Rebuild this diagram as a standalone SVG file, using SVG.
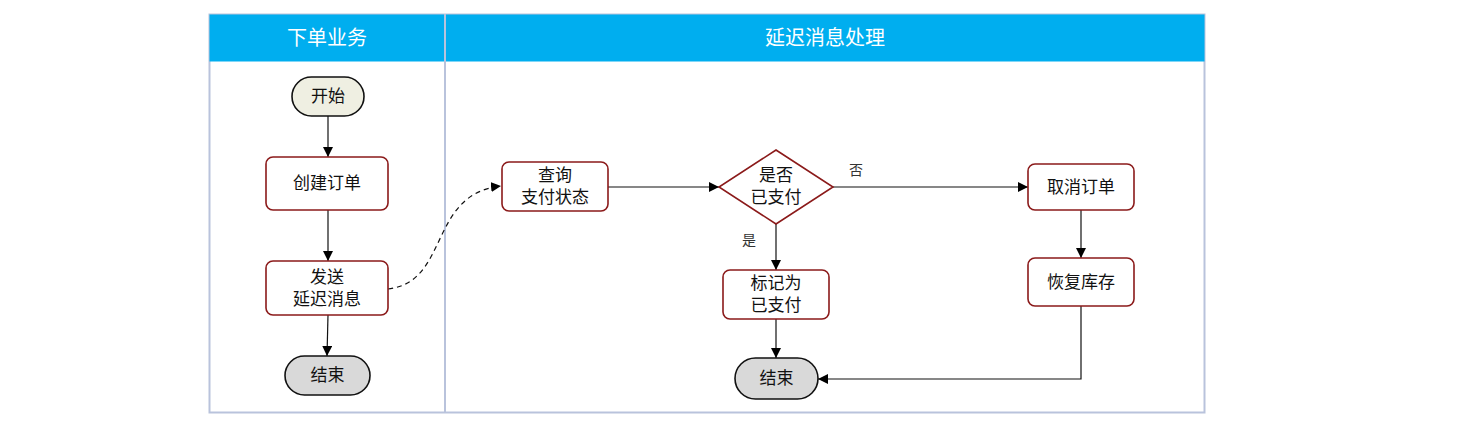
<svg xmlns="http://www.w3.org/2000/svg" width="1471" height="437" viewBox="0 0 1471 437">
<defs>
<marker id="arr" viewBox="0 0 10 10" refX="10" refY="5" markerWidth="10" markerHeight="10" markerUnits="userSpaceOnUse" orient="auto">
<path d="M0,0 L10,5 L0,10 z" fill="#000"/>
</marker>
<style>
text{font-family:"Liberation Sans","Noto Sans CJK SC",sans-serif;fill:#111;text-anchor:middle;dominant-baseline:central}
.hdr{fill:#fff;font-size:20px}
.lbl{font-size:17px}
.sm{font-size:14px;fill:#333}
.box{fill:#fff;stroke:#8b1a1a;stroke-width:1.6}
.term{stroke:#111;stroke-width:1.6}
.conn path{fill:none;stroke:#111;stroke-width:1.2}
</style>
</defs>
<rect width="1471" height="437" fill="#fff"/>
<g id="lanes">
<rect x="209.5" y="14.5" width="995" height="398" fill="#fff" stroke="#b9c3dc" stroke-width="2"/>
<rect x="209.5" y="14.5" width="995" height="47" fill="#00aeef"/>
<line x1="445" y1="14" x2="445" y2="413" stroke="#b9c3dc" stroke-width="2"/>
<text class="hdr" x="327" y="38">下单业务</text>
<text class="hdr" x="825" y="38">延迟消息处理</text>
</g>
<g class="conn" id="connectors">
<path d="M328,116 V157" marker-end="url(#arr)"/>
<path d="M328,210 V261" marker-end="url(#arr)"/>
<path d="M328,315 L327,356" marker-end="url(#arr)"/>
<path d="M388,289 C450,282 428,194 501,186" stroke-dasharray="5,4" marker-end="url(#arr)"/>
<path d="M608,187 H719" marker-end="url(#arr)"/>
<path d="M833,187 H1028" marker-end="url(#arr)"/>
<path d="M776,224 V270" marker-end="url(#arr)"/>
<path d="M1081,210 V258" marker-end="url(#arr)"/>
<path d="M776,319 V358" marker-end="url(#arr)"/>
<path d="M1081,306 V379 H818" marker-end="url(#arr)"/>
<text class="sm" x="856" y="170">否</text>
<text class="sm" x="749" y="240">是</text>
</g>
<g id="start1"><rect class="term" x="292" y="77" width="72" height="39" rx="19.5" fill="#efefe2"/><text class="lbl" x="328" y="96.5">开始</text></g>
<g id="create"><rect class="box" x="266" y="157" width="122" height="53" rx="7"/><text class="lbl" x="327" y="183.5">创建订单</text></g>
<g id="send"><rect class="box" x="266" y="261" width="122" height="54" rx="7"/><text class="lbl" x="327" y="277">发送</text><text class="lbl" x="327" y="299">延迟消息</text></g>
<g id="end1"><rect class="term" x="285" y="356" width="85" height="39" rx="19.5" fill="#d9d9d9"/><text class="lbl" x="327.5" y="375.5">结束</text></g>
<g id="query"><rect class="box" x="502" y="162" width="106" height="49" rx="7"/><text class="lbl" x="555" y="175">查询</text><text class="lbl" x="555" y="197">支付状态</text></g>
<g id="decide"><path d="M776,150 L833,187 L776,224 L719,187 Z" fill="#fff" stroke="#8b1a1a" stroke-width="1.6"/><text class="lbl" x="776" y="175">是否</text><text class="lbl" x="776" y="197">已支付</text></g>
<g id="cancel"><rect class="box" x="1028" y="164" width="106" height="46" rx="7"/><text class="lbl" x="1081" y="187">取消订单</text></g>
<g id="restore"><rect class="box" x="1028" y="258" width="106" height="48" rx="7"/><text class="lbl" x="1081" y="282">恢复库存</text></g>
<g id="mark"><rect class="box" x="723" y="270" width="106" height="49" rx="7"/><text class="lbl" x="776" y="283">标记为</text><text class="lbl" x="776" y="305">已支付</text></g>
<g id="end2"><rect class="term" x="735" y="358" width="83" height="41" rx="20.5" fill="#d9d9d9"/><text class="lbl" x="776.5" y="378.5">结束</text></g>
</svg>
